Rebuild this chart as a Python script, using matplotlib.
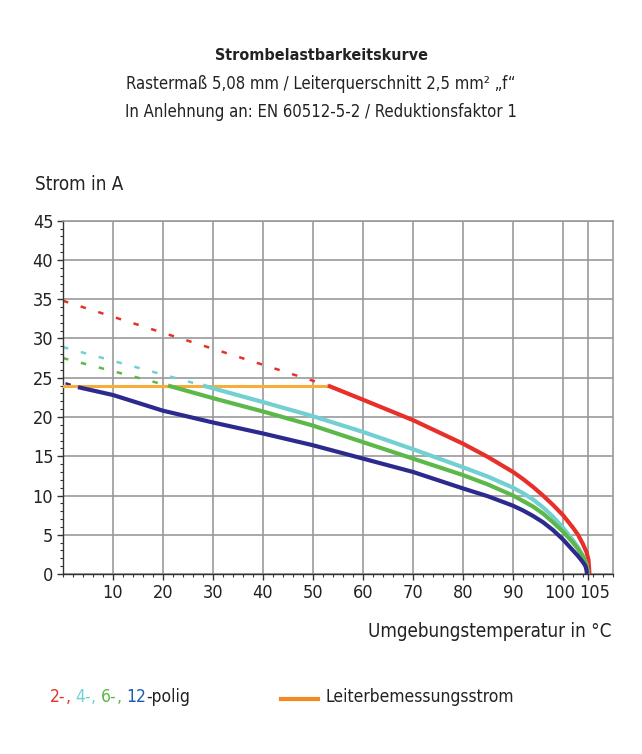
import matplotlib.pyplot as plt
import matplotlib.transforms as mtransforms
from matplotlib.ticker import MultipleLocator

plt.rcParams['font.family'] = ['DejaVu Sans']
plt.rcParams['font.stretch'] = 'condensed'

# rated current line (Leiterbemessungsstrom)
rated_x = [0, 53]
rated_y = [24, 24]

# extrapolated (dashed) parts of the curves
red_dash_x = [0, 53]
red_dash_y = [34.8, 24]
cyan_dash_x = [0, 28]
cyan_dash_y = [28.9, 24]
green_dash_x = [0, 21]
green_dash_y = [27.5, 24]
blue_dash_x = [0.5, 3]
blue_dash_y = [24.3, 23.8]

# derating curves, 2-, 4-, 6-, 12-polig
red_x = [53, 60, 70, 80, 85, 90, 92, 94, 96, 98, 100, 101, 102, 103, 104, 104.7, 105.1, 105.3]
red_y = [24, 22.2, 19.6, 16.6, 14.9, 13.0, 12.1, 11.1, 10.0, 8.8, 7.5, 6.7, 5.9, 5.0, 3.8, 2.8, 1.8, 0]
cyan_x = [28, 40, 50, 60, 70, 80, 85, 90, 92, 94, 96, 98, 100, 101, 102, 103, 104, 104.7, 105]
cyan_y = [24, 21.9, 20.1, 18.1, 15.9, 13.6, 12.4, 11.0, 10.3, 9.5, 8.5, 7.3, 5.9, 5.1, 4.3, 3.4, 2.3, 1.2, 0]
green_x = [21, 30, 40, 50, 60, 70, 80, 85, 90, 92, 94, 96, 98, 100, 101, 102, 103, 104, 104.7, 105]
green_y = [24, 22.4, 20.7, 18.9, 16.8, 14.7, 12.6, 11.4, 10.0, 9.3, 8.6, 7.7, 6.6, 5.4, 4.7, 4.0, 3.2, 2.2, 1.2, 0]
blue_x = [3, 10, 20, 30, 40, 50, 60, 70, 80, 85, 90, 92, 94, 96, 98, 100, 101, 102, 103, 104, 104.5, 104.7, 104.8]
blue_y = [23.8, 22.8, 20.8, 19.3, 17.9, 16.4, 14.7, 13.0, 10.9, 9.9, 8.7, 8.1, 7.4, 6.6, 5.6, 4.4, 3.7, 3.0, 2.3, 1.5, 1.0, 0.5, 0]

x_ticks = [10, 20, 30, 40, 50, 60, 70, 80, 90, 100, 105]
y_ticks = [0, 5, 10, 15, 20, 25, 30, 35, 40, 45]

RED = '#e8302a'
CYAN = '#72d0d2'
GREEN = '#5cb949'
BLUE = '#2d2a8e'
ORANGE = '#f7ad3c'

fig = plt.figure(figsize=(6.42, 7.54), dpi=100)
ax = fig.add_axes([0.0981, 0.2387, 0.8567, 0.4686])

dash = (0, (2.2, 5.2))
ax.plot(red_dash_x, red_dash_y, color=RED, lw=1.8, linestyle=dash)
ax.plot(cyan_dash_x, cyan_dash_y, color=CYAN, lw=1.8, linestyle=dash)
ax.plot(green_dash_x, green_dash_y, color=GREEN, lw=1.8, linestyle=dash)
ax.plot(blue_dash_x, blue_dash_y, color=BLUE, lw=1.8, linestyle=dash)

ax.plot(rated_x, rated_y, color=ORANGE, lw=2.2, zorder=3)

for xs, ys, c, z in [(red_x, red_y, RED, 4), (cyan_x, cyan_y, CYAN, 4),
                     (green_x, green_y, GREEN, 4), (blue_x, blue_y, BLUE, 5)]:
    ax.plot(xs, ys, color=c, lw=3, zorder=z, solid_capstyle='butt', solid_joinstyle='round')

ax.set_xlim(0, 110)
ax.set_ylim(0, 45)
ax.set_xticks(x_ticks)
ax.set_yticks(y_ticks)
ax.xaxis.set_minor_locator(MultipleLocator(2))
ax.yaxis.set_minor_locator(MultipleLocator(1))
ax.tick_params(which='major', direction='out', length=4, width=1, color='#333333',
               labelsize=13, labelcolor='#222222', pad=3)
ax.tick_params(which='minor', direction='out', length=2.5, width=0.8, color='#333333')
ax.grid(True, which='major', color='#999999', lw=1.2)
ax.set_axisbelow(True)

# spread the crowded "100" / "105" labels apart
labels = ax.get_xticklabels()
labels[-2].set_transform(labels[-2].get_transform() + mtransforms.ScaledTranslation(-0.03, 0, fig.dpi_scale_trans))
labels[-1].set_transform(labels[-1].get_transform() + mtransforms.ScaledTranslation(0.07, 0, fig.dpi_scale_trans))

for side in ['top', 'right']:
    ax.spines[side].set_color('#999999')
    ax.spines[side].set_linewidth(1.2)
for side in ['left', 'bottom']:
    ax.spines[side].set_color('#333333')
    ax.spines[side].set_linewidth(1)

fig.text(0.5, 0.927, 'Strombelastbarkeitskurve', ha='center', va='center',
         fontsize=11.5, fontweight='bold', color='#222222')
fig.text(0.5, 0.888, 'Rastermaß 5,08 mm / Leiterquerschnitt 2,5 mm² „f“', ha='center',
         va='center', fontsize=12, color='#222222')
fig.text(0.5, 0.851, 'In Anlehnung an: EN 60512-5-2 / Reduktionsfaktor 1', ha='center',
         va='center', fontsize=12, color='#222222')
fig.text(0.055, 0.755, 'Strom in A', ha='left', va='center', fontsize=13.5, color='#222222')
fig.text(0.953, 0.162, 'Umgebungstemperatur in °C', ha='right', va='center',
         fontsize=13.5, color='#222222')

# legend: coloured pole counts, then rated current line
parts = [('2-', RED), (', ', RED), ('4-', CYAN), (', ', CYAN), ('6-', GREEN),
         (', ', GREEN), ('12', '#1e5cb3'), ('-polig', '#222222')]
t = fig.text(0.078, 0.076, parts[0][0], color=parts[0][1], fontsize=12.5, va='center')
for s, c in parts[1:]:
    t = ax.annotate(s, xy=(1, 0), xycoords=t, va='bottom', ha='left', color=c,
                    fontsize=12.5, annotation_clip=False)

fig.add_artist(plt.Line2D([0.437, 0.495], [0.073, 0.073], color='#f08a24', lw=3))
fig.text(0.507, 0.076, 'Leiterbemessungsstrom', ha='left', va='center', fontsize=12.5,
         color='#222222')

fig.savefig('out.png', dpi=100)
